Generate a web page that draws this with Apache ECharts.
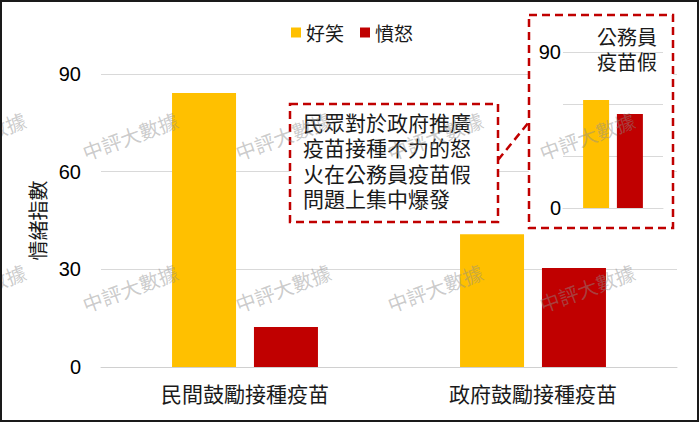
<!DOCTYPE html>
<html>
<head>
<meta charset="utf-8">
<script src="https://cdn.jsdelivr.net/npm/echarts@6/dist/echarts.min.js"></script>
<style>
html,body{margin:0;padding:0;background:#fff;}
#chart{width:700px;height:423px;}
</style>
</head>
<body>
<div id="chart"></div>
<script>
const categories = ['民間鼓勵接種疫苗', '政府鼓勵接種疫苗'];
const seriesNames = ['好笑', '憤怒'];
const laughValues = [84.2, 40.8];
const angerValues = [12.3, 30.4];
const insetCategories = ['公務員疫苗假'];
const insetLaugh = [62.3];
const insetAnger = [54.2];
const yTicks = [0, 30, 60, 90];
const insetTitle = '公務員\n疫苗假';
const noteText = '民眾對於政府推廣\n疫苗接種不力的怒\n火在公務員疫苗假\n問題上集中爆發';
const axisName = '情緒指數';
const watermark = '中評大數據';

const YELLOW = '#FFC000', RED = '#C00000';
const CJK = '"Noto Sans CJK TC","Noto Sans CJK SC",sans-serif';
const NUM = '"Liberation Sans","DejaVu Sans",sans-serif';

const chart = echarts.init(document.getElementById('chart'), null, {renderer: 'svg'});

const graphics = [];
// watermarks
const wxs = [-22, 130, 283, 435, 587];
const wys = [136, 288];
wys.forEach(y => wxs.forEach(x => {
  graphics.push({
    type: 'text', x: x, y: y, rotation: 20 * Math.PI / 180, z: 100, silent: true,
    style: {text: watermark, fill: 'rgba(140,140,140,0.45)', font: '20px ' + CJK, align: 'center', verticalAlign: 'middle'}
  });
}));
// outer border
graphics.push({type: 'rect', shape: {x: 1, y: 1, width: 697, height: 420}, z: 101, silent: true,
  style: {fill: 'none', stroke: '#1a1a1a', lineWidth: 2}});
// annotation box
graphics.push({type: 'rect', shape: {x: 290, y: 104, width: 208, height: 118}, z: 50,
  style: {fill: '#fff', stroke: RED, lineWidth: 2.5, lineDash: [8, 5]}});
graphics.push({type: 'text', x: 303, y: 109, z: 51,
  style: {text: noteText, fill: '#1a1a1a', font: '21px ' + CJK, lineHeight: 25.5, align: 'left', verticalAlign: 'top'}});
// connector
graphics.push({type: 'line', shape: {x1: 498, y1: 160, x2: 529, y2: 122}, z: 50,
  style: {stroke: RED, lineWidth: 2.5, lineDash: [8, 5]}});
// inset box
graphics.push({type: 'rect', shape: {x: 529, y: 15, width: 144, height: 213}, z: 1,
  style: {fill: '#fff', stroke: RED, lineWidth: 2.5, lineDash: [8, 5]}});
graphics.push({type: 'text', x: 657, y: 24, z: 51,
  style: {text: insetTitle, fill: '#1a1a1a', font: '20px ' + CJK, lineHeight: 25, align: 'right', verticalAlign: 'top'}});

const option = {
  backgroundColor: '#fff',
  animation: false,
  legend: {
    data: seriesNames, left: 286, top: 18, itemWidth: 10, itemHeight: 10, itemGap: 16,
    icon: 'rect',
    textStyle: {fontSize: 19, color: '#1a1a1a', fontFamily: CJK}
  },
  grid: [
    {left: 101, right: 23, top: 74, bottom: 56},
    {left: 563, right: 37, top: 52, bottom: 215, z: 5}
  ],
  xAxis: [
    {type: 'category', gridIndex: 0, data: categories,
      axisLine: {lineStyle: {color: '#d0d0d0', width: 1}}, axisTick: {show: false},
      axisLabel: {fontSize: 21, color: '#1a1a1a', fontFamily: CJK, margin: 15}},
    {type: 'category', gridIndex: 1, data: insetCategories, z: 5,
      axisLine: {lineStyle: {color: '#d9d9d9'}}, axisTick: {show: false}, axisLabel: {show: false}}
  ],
  yAxis: [
    {type: 'value', gridIndex: 0, min: yTicks[0], max: yTicks[yTicks.length - 1], interval: 30,
      name: axisName, nameLocation: 'middle', nameRotate: 90, nameGap: 52,
      nameTextStyle: {fontSize: 20, color: '#1a1a1a', fontFamily: CJK},
      axisLine: {show: false}, axisTick: {show: false},
      axisLabel: {fontSize: 20, color: '#000', fontFamily: NUM, margin: 20},
      splitLine: {lineStyle: {color: '#d9d9d9', width: 1}}},
    {type: 'value', gridIndex: 1, min: 0, max: 90, interval: 30, z: 5,
      axisLine: {show: false}, axisTick: {show: false},
      axisLabel: {fontSize: 20, color: '#000', fontFamily: NUM, margin: 2,
        formatter: v => (v === 0 || v === 90) ? String(v) : ''},
      splitLine: {lineStyle: {color: '#d9d9d9', width: 1}}}
  ],
  series: [
    {name: seriesNames[0], type: 'bar', xAxisIndex: 0, yAxisIndex: 0, data: laughValues,
      barWidth: 64, barGap: '28%', itemStyle: {color: YELLOW}},
    {name: seriesNames[1], type: 'bar', xAxisIndex: 0, yAxisIndex: 0, data: angerValues,
      barWidth: 64, barGap: '28%', itemStyle: {color: RED}},
    {name: seriesNames[0], type: 'bar', xAxisIndex: 1, yAxisIndex: 1, data: insetLaugh,
      barWidth: 26, barGap: '30%', itemStyle: {color: YELLOW}, z: 10},
    {name: seriesNames[1], type: 'bar', xAxisIndex: 1, yAxisIndex: 1, data: insetAnger,
      barWidth: 26, barGap: '30%', itemStyle: {color: RED}, z: 10}
  ],
  graphic: {elements: graphics}
};
chart.setOption(option);
</script>
</body>
</html>
